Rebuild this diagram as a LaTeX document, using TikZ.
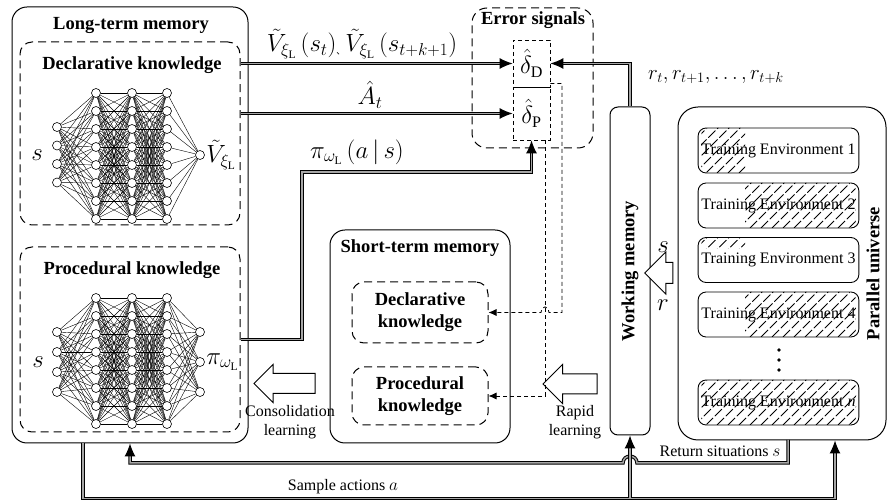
\documentclass[tikz,border=0pt]{standalone}
\usepackage{fontspec}
\setmainfont{Liberation Serif}
\newfontfamily\cjk{Noto Sans CJK SC}
\usepackage{tikz}
\usetikzlibrary{positioning,arrows.meta,shapes.arrows,calc}
\newcommand\ttlfont{\fontsize{18.5}{22}\selectfont\bfseries}
\newcommand\envfont{\fontsize{16}{19}\selectfont}
\newcommand\lblfont{\fontsize{23}{26}\selectfont}

\tikzset{
  box/.style={draw, line width=1pt, rounded corners=15pt, inner sep=0pt},
  dbox/.style={box, dash pattern=on 8pt off 5pt, rounded corners=12pt},
  sbox/.style={draw, line width=0.9pt, dash pattern=on 4pt off 3pt, inner sep=0pt},
  env/.style={draw, line width=0.9pt, rounded corners=8pt, minimum width=155pt, minimum height=45pt, font=\envfont},
  neuron/.style={circle, draw, line width=0.6pt, fill=white, inner sep=0pt, minimum size=9pt},
  syn/.style={line width=0.4pt},
  dbl/.style={line width=1pt, draw=black, double=gray!70, double distance=1.5pt, -{Latex[length=13pt,width=11pt]}},
  dsh/.style={line width=0.8pt, dash pattern=on 4pt off 3pt, -{Latex[length=8pt,width=7pt]}},
  fat/.style={single arrow, draw, fill=white, line width=1pt, inner xsep=0pt, inner ysep=9.5pt, single arrow head indent=0pt},
  hatch/.style={line width=0.9pt, dash pattern=on 10pt off 2.5pt},
  small/.style={font=\envfont, align=center}
}

\begin{document}
\begin{tikzpicture}[x=1pt, y=-1pt]
    \useasboundingbox (0,0) rectangle (887,502);

    % Long-term memory
    \node[box, minimum width=236pt, minimum height=436pt] (ltm) at (130,225) {};
    \node[font=\ttlfont] (ltmtitle) at (131,25) {Long-term memory};
    \node[dbox, minimum width=220pt, minimum height=183pt] (decl) at (130,133.5) {};
    \node[font=\ttlfont] (decltitle) at (132,65) {Declarative knowledge};
    \node[dbox, minimum width=220pt, minimum height=185pt] (proc) at (130,339.5) {};
    \node[font=\ttlfont] (proctitle) at (132,270) {Procedural knowledge};

    % Declarative network
    \foreach \i in {1,...,4} \node[neuron] (din\i) at (57,{108.5+18.5*\i}) {};
    \foreach \l/\x in {1/96,2/132,3/167}
        \foreach \i in {1,...,8} \node[neuron] (dh\l-\i) at (\x,{75+18*\i}) {};
    \node[neuron] (dout) at (200,155) {};
    \foreach \i in {1,...,4} \foreach \j in {1,...,8} \draw[syn] (din\i) -- (dh1-\j);
    \foreach \i in {1,...,8} \foreach \j in {1,...,8} {
        \draw[syn] (dh1-\i) -- (dh2-\j);
        \draw[syn] (dh2-\i) -- (dh3-\j);
    }
    \foreach \i in {1,...,8} \draw[syn] (dh3-\i) -- (dout);
    \node[font=\lblfont] (dins) at (37,155) {$s$};
    \node[font=\lblfont, right=-2pt of dout] (doutv) {$\tilde{V}_{\xi_{\mathrm{L}}}$};

    % Procedural network
    \foreach \i in {1,...,4} \node[neuron] (pin\i) at (57,{312+20*\i}) {};
    \foreach \l/\x in {1/96,2/132,3/167}
        \foreach \i in {1,...,8} \node[neuron] (ph\l-\i) at (\x,{280+18*\i}) {};
    \foreach \i in {1,...,3} \node[neuron] (pout\i) at (200,{302+30*\i}) {};
    \foreach \i in {1,...,4} \foreach \j in {1,...,8} \draw[syn] (pin\i) -- (ph1-\j);
    \foreach \i in {1,...,8} \foreach \j in {1,...,8} {
        \draw[syn] (ph1-\i) -- (ph2-\j);
        \draw[syn] (ph2-\i) -- (ph3-\j);
    }
    \foreach \i in {1,...,8} \foreach \j in {1,...,3} \draw[syn] (ph3-\i) -- (pout\j);
    \node[font=\lblfont] (pins) at (38,362) {$s$};
    \node[font=\lblfont, right=-2pt of pout2] (poutpi) {$\pi_{\omega_{\mathrm{L}}}$};

    % Error signals
    \node[dbox, rounded corners=15pt, minimum width=121pt, minimum height=140pt] (err) at (532.5,78) {};
    \node[font=\ttlfont] (errtitle) at (533,20) {Error signals};
    \node[sbox, minimum width=37pt, minimum height=47pt, font=\lblfont] (dD) at (531.5,63.5) {$\hat{\delta}_{\mathrm{D}}$};
    \node[sbox, minimum width=37pt, minimum height=53pt, font=\lblfont] (dP) at (531.5,113.5) {$\hat{\delta}_{\mathrm{P}}$};

    % Short-term memory
    \node[box, minimum width=180pt, minimum height=213pt] (stm) at (420,336.5) {};
    \node[font=\ttlfont] (stmtitle) at (420,248) {Short-term memory};
    \node[dbox, minimum width=136pt, minimum height=61pt, font=\ttlfont, align=center] (stmD) at (420,312.5) {Declarative\\knowledge};
    \node[dbox, minimum width=136pt, minimum height=58pt, font=\ttlfont, align=center] (stmP) at (420,396) {Procedural\\knowledge};

    % Working memory and parallel universe
    \node[box, rounded corners=8pt, minimum width=40pt, minimum height=328pt] (wm) at (630,271) {};
    \node[font=\ttlfont, rotate=90] (wmtitle) at (630,271) {Working memory};
    \node[box, rounded corners=20pt, minimum width=208pt, minimum height=333pt] (pu) at (782,273.5) {};
    \node[font=\ttlfont, rotate=90] (putitle) at (873,273.5) {Parallel universe};

    % hatching of the environments
    \begin{scope}
        \clip[rounded corners=8pt] (701,128) rectangle (856,173);
        \clip (701,128) rectangle (745,173);
        \foreach \k in {640,651,...,860} \draw[hatch] (\k,173) -- ++(50,-50);
    \end{scope}
    \begin{scope}
        \clip[rounded corners=8pt] (701,183) rectangle (856,228);
        \clip (745,183) rectangle (856,228);
        \foreach \k in {640,651,...,860} \draw[hatch] (\k,228) -- ++(50,-50);
    \end{scope}
    \begin{scope}
        \clip[rounded corners=8pt] (701,237.5) rectangle (856,282.5);
        \clip (701,237.5) rectangle (745,249);
        \foreach \k in {640,651,...,860} \draw[hatch] (\k,282.5) -- ++(50,-50);
    \end{scope}
    \begin{scope}
        \clip[rounded corners=8pt] (701,292) rectangle (856,337);
        \clip (745,292) rectangle (856,337);
        \foreach \k in {640,651,...,860} \draw[hatch] (\k,337) -- ++(50,-50);
    \end{scope}
    \begin{scope}
        \clip[rounded corners=8pt] (701,380) rectangle (856,425);
        \foreach \k in {640,651,...,860} \draw[hatch] (\k,425) -- ++(50,-50);
    \end{scope}

    \node[env] (env1) at (778.5,150.5) {Training Environment 1};
    \node[env] (env2) at (778.5,205.5) {Training Environment 2};
    \node[env] (env3) at (778.5,260) {Training Environment 3};
    \node[env] (env4) at (778.5,314.5) {Training Environment 4};
    \node[env] (envn) at (778.5,402.5) {Training Environment \textit{n}};
    \foreach \y in {350,360,370} \fill (779,\y) circle (1.8pt);

    % block arrows
    \node[fat, shape border rotate=180, minimum height=61pt, minimum width=37pt, single arrow head extend=9pt] (consol) at (289.5,383.5) {};
    \node[small] (consollbl) at (290,422) {Consolidation\\learning};
    \node[fat, shape border rotate=180, minimum height=54pt, minimum width=38pt, single arrow head extend=9.5pt] (rapid) at (575,384) {};
    \node[small] (rapidlbl) at (575,422) {Rapid\\learning};
    \node[fat, shape border rotate=180, inner ysep=10pt, minimum height=28pt, minimum width=41pt, single arrow head extend=10.5pt] (sr) at (664,273) {};
    \node[font=\lblfont] (slbl) at (663,247) {$s$};
    \node[font=\lblfont] (rlbl) at (663,305) {$r$};

    % value, advantage and policy signals
    \draw[dbl] (decl.east |- dD.west) -- (dD.west);
    \draw[dbl] (decl.east |- dP.west) -- (dP.west);
    \coordinate (pbend) at (302,172);
    \draw[dbl] (proc.east) -| (pbend) -| (dP.south);
    \draw[dbl] (wm.north) |- (dD.east);
    \node[font=\lblfont] (vlbl) at (362,44) {$\tilde{V}_{\xi_{\mathrm{L}}}\left(s_t\right)$\raisebox{-3pt}{\cjk\fontsize{9}{9}\selectfont 、}$\tilde{V}_{\xi_{\mathrm{L}}}\left(s_{t+k+1}\right)$};
    \node[font=\lblfont] (albl) at (370,95) {$\hat{A}_t$};
    \node[font=\lblfont] (pilbl) at (357,152) {$\pi_{\omega_{\mathrm{L}}}\left(a\,|\,s\right)$};
    \node[font=\fontsize{20}{24}\selectfont] (rwlbl) at (716,77) {$r_t, r_{t+1}, \dots, r_{t+k}$};

    % error signals to short-term memory
    \draw[dsh] ($(dD.south east)+(0,-4)$) -| (562,312.5) -- (549,312.5)
        .. controls (548,305) and (542,305) .. (541,312.5) -- (stmD.east);
    \draw[dsh] ($(dP.south east)+(-5,0)$) |- (stmP.east);

    % return situations and sample actions
    \coordinate (retstart) at (788,440);
    \draw[dbl] (retstart) -- (788,463) -- (637,463)
        .. controls (637,454) and (623,454) .. (623,463) -| (ltm.south);
    \node[font=\envfont] (retlbl) at (720,451) {Return situations $s$};
    \draw[dbl] ($(ltm.south)+(-47,0)$) |- ($(pu.south)+(53,58)$) -- ($(pu.south)+(53,0)$);
    \coordinate (fork) at (630,498);
    \draw[dbl] (fork) -- (wm.south);
    \node[font=\envfont] (samplbl) at (343,487) {Sample actions $a$};
\end{tikzpicture}
\end{document}
